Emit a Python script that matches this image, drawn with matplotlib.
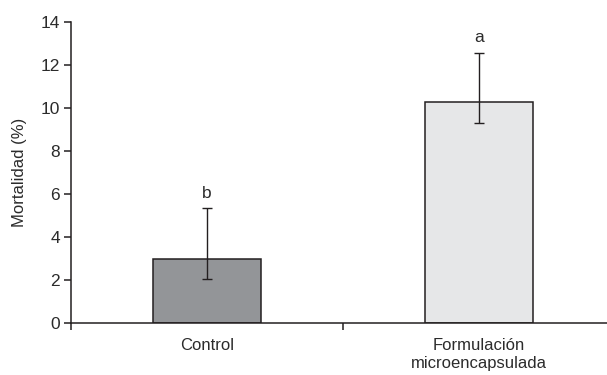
import matplotlib
matplotlib.use("Agg")
import matplotlib.pyplot as plt
import numpy as np

categories = ["Control", "Formulación\nmicroencapsulada"]
values = [3.0, 10.3]
err_low = [0.97, 1.0]
err_high = [2.33, 2.27]
letters = ["b", "a"]
colors = ["#939598", "#e6e7e8"]
yticks = [0, 2, 4, 6, 8, 10, 12, 14]

plt.rcParams['font.family'] = ['Liberation Sans', 'DejaVu Sans']
tc = "#2b2b2b"

W, H = 607, 375
fig = plt.figure(figsize=(W/100, H/100), dpi=100)
left, right = 71, 615
bottom, top = 323, 22
ax = fig.add_axes([left/W, 1 - bottom/H, (right-left)/W, (bottom-top)/H])

x = np.arange(len(categories))
ax.bar(x, values, width=0.40, color=colors, edgecolor="#231f20", linewidth=1.1, zorder=2)
ax.errorbar(x, values, yerr=[err_low, err_high], fmt="none", ecolor="#231f20",
            elinewidth=1.0, capsize=3.8, capthick=1.0, zorder=3)
for xi, v, eh, lab in zip(x, values, err_high, letters):
    ax.text(xi, v + eh + 0.35, lab, ha="center", va="bottom", fontsize=12.5, color=tc)

ax.set_xlim(-0.5, 1.5)
ax.set_ylim(0, 14)
ax.set_yticks(yticks)
ax.set_yticklabels([str(t) for t in yticks], fontsize=12.5, color=tc)
ax.set_xticks([-0.5, 0.5])
ax.set_xticklabels(["", ""])
ax.set_xticks(x, minor=True)
ax.set_xticklabels(categories, minor=True, fontsize=12, color=tc, linespacing=1.2)
ax.tick_params(axis="x", which="minor", length=0, pad=11)
ax.tick_params(axis="x", which="major", length=5, width=1.1, color="#231f20")
ax.tick_params(axis="y", length=5, width=1.1, color="#231f20", pad=3)
ax.set_ylabel("Mortalidad (%)", fontsize=12, color=tc, labelpad=10)

for s in ["top", "right"]:
    ax.spines[s].set_visible(False)
for s in ["left", "bottom"]:
    ax.spines[s].set_linewidth(1.1)
    ax.spines[s].set_color("#231f20")

fig.savefig("out.png", dpi=100)
